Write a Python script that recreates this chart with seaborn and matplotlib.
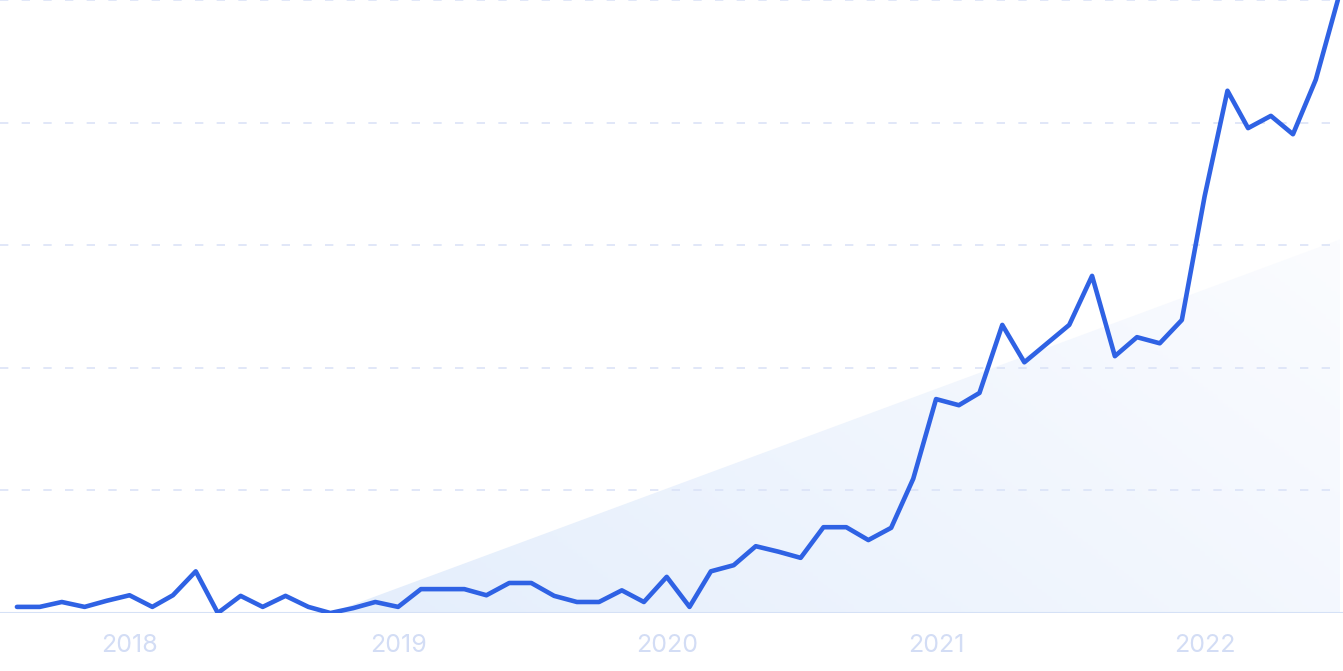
import numpy as np
import pandas as pd
import matplotlib
matplotlib.use("Agg")
import matplotlib.pyplot as plt
import matplotlib.dates as mdates
from matplotlib.colors import LinearSegmentedColormap
import seaborn as sns

# Monthly search interest, Aug 2017 - Jul 2022 (0-100 scale)
months = pd.date_range("2017-08-01", "2022-07-01", freq="MS")
interest = [1, 1, 1.8, 1, 2, 2.9, 1, 2.9, 6.8, 0,
            2.8, 1, 2.8, 1, 0, 0.8, 1.8, 1, 3.9, 3.9,
            3.9, 2.9, 4.9, 4.9, 2.8, 1.8, 1.8, 3.7, 1.8, 5.9,
            1, 6.8, 7.8, 10.9, 10, 9, 14, 14, 11.9, 13.9,
            21.9, 34.9, 33.9, 35.9, 47, 40.9, 44, 47, 55, 41.9,
            45, 44, 47.8, 68, 85.2, 79.1, 81.1, 78.1, 87, 100]

# Trend line end points
trend_dates = ["2018-10-01", "2022-07-01"]
trend_values = [0, 60.8]

tick_years = ["2018", "2019", "2020", "2021", "2022"]
grid_values = [20, 40, 60, 80, 100]

df = pd.DataFrame({"month": months, "interest": interest})

sns.set_style("white")
plt.rcParams["font.family"] = ["Inter", "DejaVu Sans"]

fig = plt.figure(figsize=(13.43, 6.71), dpi=100)
ax = fig.add_axes([0, 0.0864, 1, 0.9136])

# trend area with gradient
tx = mdates.date2num(pd.to_datetime(trend_dates))
x_end = mdates.date2num(pd.Timestamp("2022-07-04"))
ty_end = trend_values[0] + (trend_values[1] - trend_values[0]) * (x_end - tx[0]) / (tx[1] - tx[0])
poly = ax.fill_between([tx[0], x_end], [trend_values[0], ty_end], 0,
                       color="none", lw=0)
cmap = LinearSegmentedColormap.from_list("g", ["#e4eefc", "#fbfcff"])
gx, gy = np.meshgrid(np.linspace(0, 1, 200), np.linspace(0, 1, 200))
grad = 0.75 * gx + 0.35 * (1 - gy)
img = ax.imshow(grad, cmap=cmap, aspect="auto", origin="upper",
                extent=[tx[0], x_end, 0, ty_end], zorder=1)
img.set_clip_path(poly.get_paths()[0], transform=ax.transData)

for g in grid_values:
    ax.axhline(g, color="#dbe3f7", lw=1.2, dashes=(5, 8), zorder=2)
ax.axhline(0, color="#d5e1f6", lw=1.5, zorder=2)

sns.lineplot(data=df, x="month", y="interest", ax=ax, color="#2f62e4",
             lw=3.3, zorder=3)

ax.set_xlim(mdates.date2num(pd.Timestamp("2017-07-09")),
            mdates.date2num(pd.Timestamp("2022-07-08")))
ax.set_ylim(0, 100)
ax.set_xticks(mdates.date2num(pd.to_datetime([y + "-01-01" for y in tick_years])))
ax.set_xticklabels(tick_years)
ax.tick_params(axis="x", length=0, pad=15, labelsize=18, labelcolor="#d3ddf5")
ax.set_yticks([])
ax.set_xlabel("")
ax.set_ylabel("")
for s in ax.spines.values():
    s.set_visible(False)

fig.savefig("out.png", dpi=100)
